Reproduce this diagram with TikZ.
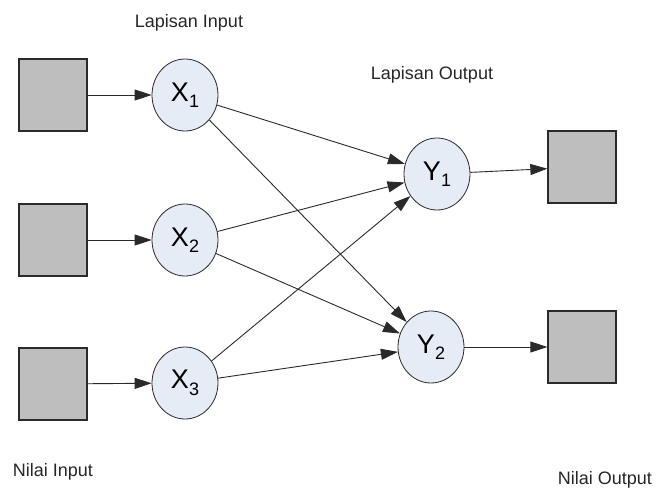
\documentclass[tikz,border=0pt]{standalone}
\usepackage{fontspec}
\setmainfont{Liberation Sans}
\usetikzlibrary{shapes.geometric,arrows.meta}

\definecolor{cBoxFill}{HTML}{BEBEBE}
\definecolor{cNodeFill}{HTML}{E6ECF6}
\definecolor{cLine}{HTML}{2A2A2A}

\newcommand{\lowidx}[1]{\raisebox{-0.45ex}{\fontsize{18}{18}\selectfont #1}}

\tikzset{
  valbox/.style={draw=cLine,fill=cBoxFill,line width=1.3pt,inner sep=0pt,
    minimum width=68pt,minimum height=72pt},
  neuron/.style={ellipse,draw=cLine,fill=cNodeFill,line width=0.8pt,inner sep=0pt,
    minimum width=66pt,minimum height=72pt,font=\fontsize{27}{27}\selectfont},
  lbl/.style={font=\fontsize{18}{20}\selectfont,text=black!85},
  link/.style={draw=cLine,line width=0.9pt,-{Triangle[length=17pt,width=11pt]}}
}

\begin{document}
\begin{tikzpicture}[x=1pt,y=-1pt]
\useasboundingbox (0,0) rectangle (657,490);

%kotak nilai input
\node[valbox] (nIn1) at (53,95) {};
\node[valbox] (nIn2) at (53,240) {};
\node[valbox] (nIn3) at (53,384) {};

%lapisan input
\node[neuron] (nX1) at (185,95) {X\lowidx{1}};
\node[neuron] (nX2) at (185,240) {X\lowidx{2}};
\node[neuron] (nX3) at (185,383) {X\lowidx{3}};

%lapisan output
\node[neuron] (nY1) at (437,174) {Y\lowidx{1}};
\node[neuron] (nY2) at (431,347) {Y\lowidx{2}};

%kotak nilai output
\node[valbox] (nOut1) at (582,167) {};
\node[valbox] (nOut2) at (582,347) {};

\node[lbl] (tLapIn) at (189,23) {Lapisan Input};
\node[lbl] (tLapOut) at (432,75) {Lapisan Output};
\node[lbl] (tNilIn) at (53,472) {Nilai Input};
\node[lbl] (tNilOut) at (605,480) {Nilai Output};

\foreach \v/\u in
{nIn1/nX1,
    nIn2/nX2,
    nIn3/nX3,
    nY1/nOut1,
    nY2/nOut2}
{
    \draw[link] (\v) -- (\u);
};

\foreach \v in {nX1,nX2,nX3}
{
    \foreach \u in {nY1,nY2}
    {
        \draw[link] (\v) -- (\u);
    };
};

\end{tikzpicture}
\end{document}
